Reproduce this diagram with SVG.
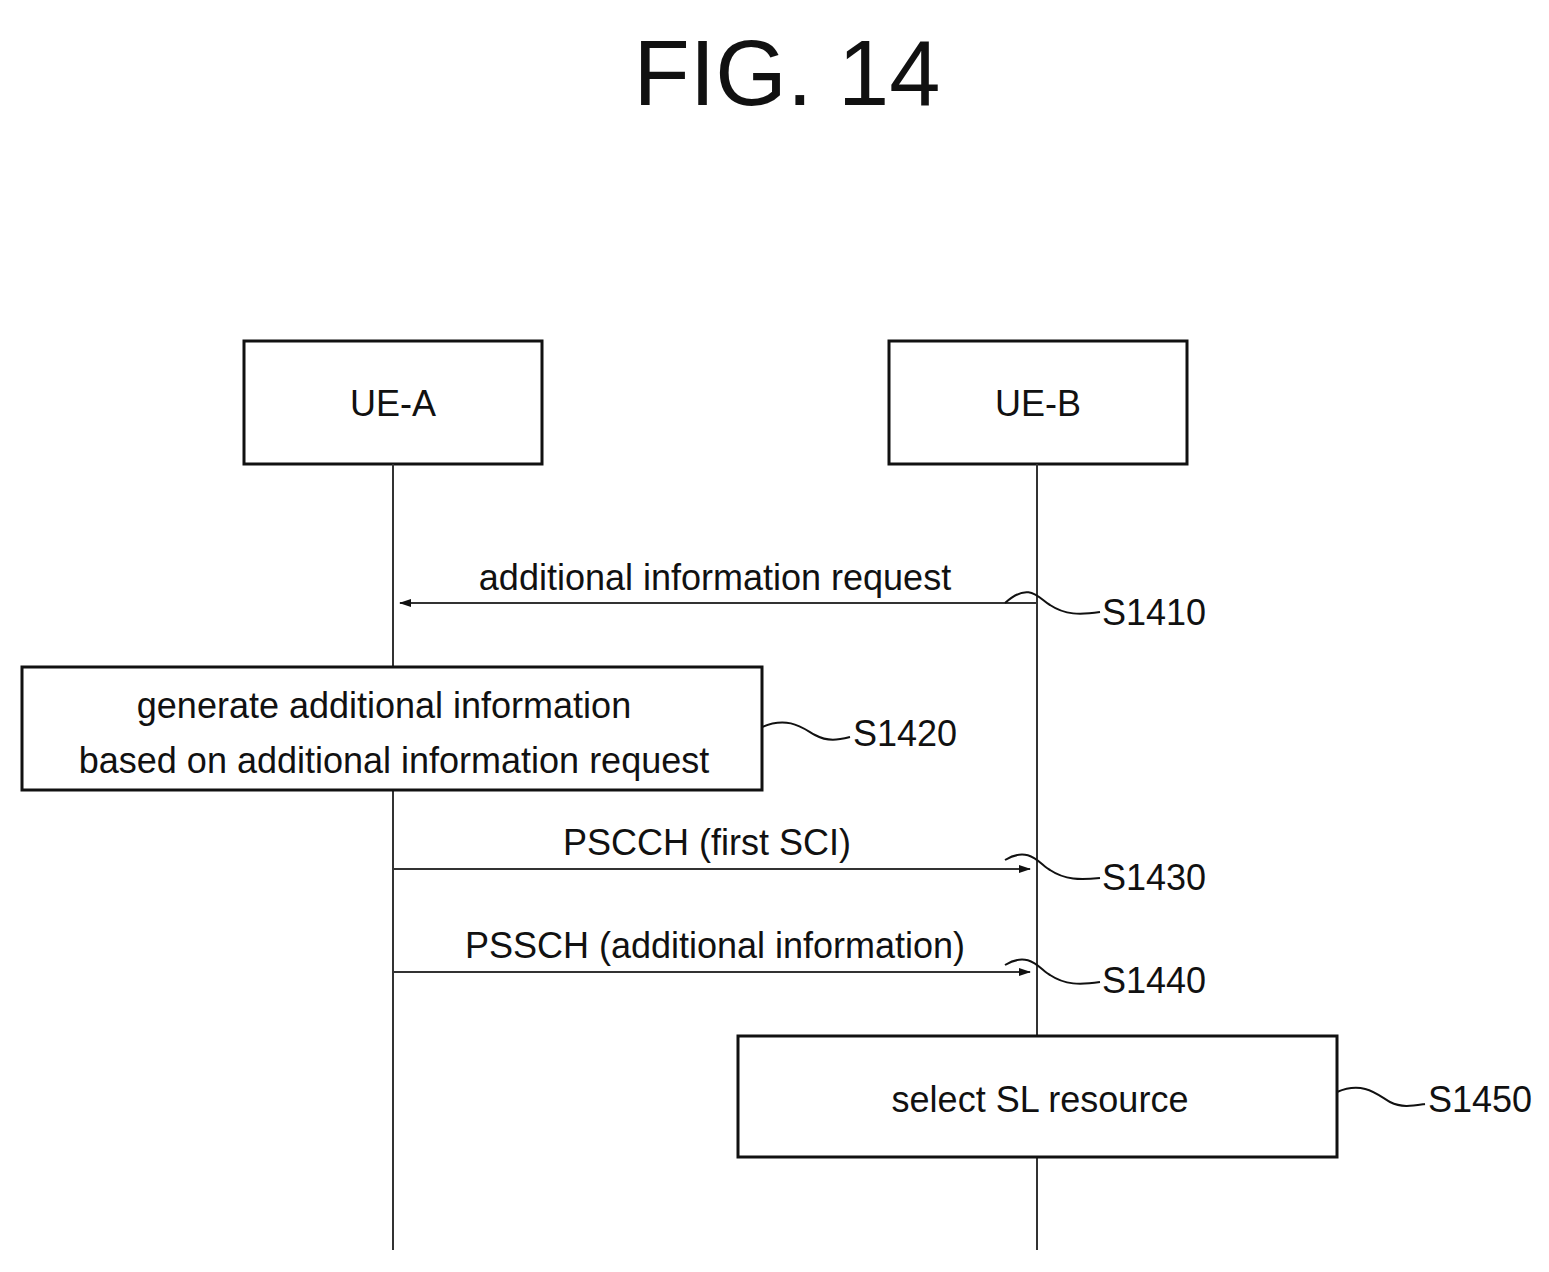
<svg xmlns="http://www.w3.org/2000/svg" width="1549" height="1272" viewBox="0 0 1549 1272">
<style>
text{font-family:"Liberation Sans",Arial,sans-serif;fill:#111}
.lbl{font-size:36px}
.box{fill:#fff;stroke:#111;stroke-width:3}
.ln{stroke:#333;stroke-width:2;fill:none}
.sq{stroke:#111;stroke-width:2;fill:none}
</style>
<defs>
<marker id="ah" markerWidth="12" markerHeight="10" refX="11" refY="5" orient="auto" markerUnits="userSpaceOnUse">
<path d="M0,1 L12,5 L0,9 Z" fill="#111"/>
</marker>
</defs>
<rect width="1549" height="1272" fill="#fff"/>
<text x="787" y="105" font-size="92" text-anchor="middle">FIG. 14</text>
<g id="ue-a"><rect class="box" x="244" y="341" width="298" height="123"/><text class="lbl" x="393" y="416" text-anchor="middle">UE-A</text></g>
<g id="ue-b"><rect class="box" x="889" y="341" width="298" height="123"/><text class="lbl" x="1038" y="416" text-anchor="middle">UE-B</text></g>
<g id="connectors">
<line class="ln" x1="393" y1="464" x2="393" y2="667"/>
<line class="ln" x1="393" y1="790" x2="393" y2="1250"/>
<line class="ln" x1="1037" y1="464" x2="1037" y2="1036"/>
<line class="ln" x1="1037" y1="1157" x2="1037" y2="1250"/>
<line class="ln" x1="1037" y1="603" x2="400" y2="603" marker-end="url(#ah)"/>
<line class="ln" x1="393" y1="869" x2="1030" y2="869" marker-end="url(#ah)"/>
<line class="ln" x1="393" y1="972" x2="1030" y2="972" marker-end="url(#ah)"/>
<path class="sq" d="M1005,603 C1030,580 1040,600 1050,605 C1065,615 1080,615 1100,612"/>
<path class="sq" d="M1005,860 C1030,845 1040,865 1050,870 C1065,880 1080,880 1100,878"/>
<path class="sq" d="M1005,965 C1030,950 1040,970 1050,975 C1065,985 1080,985 1100,982"/>
<path class="sq" d="M762,727 C790,715 805,730 815,735 C828,742 838,740 850,737"/>
<path class="sq" d="M1337,1092 C1365,1080 1380,1097 1390,1102 C1402,1108 1412,1106 1425,1104"/>
</g>
<g id="s1410"><text class="lbl" x="715" y="590" text-anchor="middle">additional information request</text><text class="lbl" x="1102" y="625">S1410</text></g>
<g id="s1420"><rect class="box" x="22" y="667" width="740" height="123"/><text class="lbl" x="384" y="718" text-anchor="middle">generate additional information</text><text class="lbl" x="394" y="773" text-anchor="middle">based on additional information request</text><text class="lbl" x="853" y="746">S1420</text></g>
<g id="s1430"><text class="lbl" x="707" y="855" text-anchor="middle">PSCCH (first SCI)</text><text class="lbl" x="1102" y="890">S1430</text></g>
<g id="s1440"><text class="lbl" x="715" y="958" text-anchor="middle">PSSCH (additional information)</text><text class="lbl" x="1102" y="993">S1440</text></g>
<g id="s1450"><rect class="box" x="738" y="1036" width="599" height="121"/><text class="lbl" x="1040" y="1112" text-anchor="middle">select SL resource</text><text class="lbl" x="1428" y="1112">S1450</text></g>
</svg>
